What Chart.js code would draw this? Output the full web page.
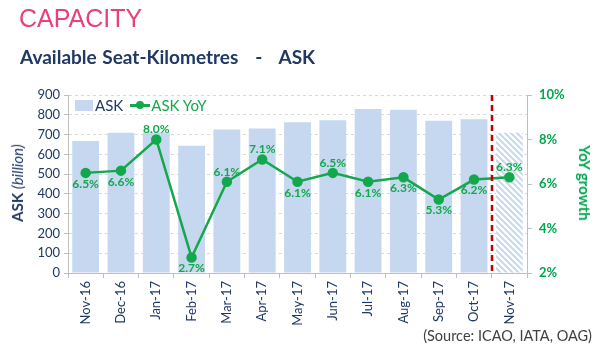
<!DOCTYPE html>
<html>
<head>
<meta charset="utf-8">
<script src="https://cdn.jsdelivr.net/npm/chart.js@4.4.1/dist/chart.umd.min.js"></script>
<style>
    body { margin: 0; background: #fff; }
    #wrap { position: relative; width: 600px; height: 347px; overflow: hidden; font-family: Lato, sans-serif; }
    #graficoAsk { position: absolute; left: 0; top: 0; }
    .txt { position: absolute; white-space: nowrap; }
    #capacity { left: 19px; top: 4px; font-family: "Liberation Sans", Arial, sans-serif; font-size: 25px; color: #e8407c; }
    #titulo { left: 20px; top: 45px; font-size: 19px; font-weight: bold; color: #1f3864; word-spacing: 1px; }
    #fonte { right: 8px; top: 327px; font-size: 14.5px; color: #404040; }
    #eixoEsq { left: 17px; top: 183px; transform: translate(-50%, -50%) rotate(-90deg); font-size: 15px; color: #1f3864; }
    #eixoDir { left: 585px; top: 183px; transform: translate(-50%, -50%) rotate(90deg); font-size: 15px; font-weight: bold; color: #00a650; }
    #legenda { left: 75px; top: 96px; font-size: 15px; display: flex; align-items: center; }
    .caixa { width: 18px; height: 11px; background: #c6d8f0; margin-right: 2px; }
    .linha { position: relative; width: 20px; height: 3px; background: #12a84b; margin: 0 1px 0 7px; }
    .linha::after { content: ''; position: absolute; left: 6px; top: -3px; width: 8px; height: 8px; border-radius: 50%; background: #12a84b; }
</style>
</head>
<body>
<div id="wrap">
    <canvas id="graficoAsk" width="600" height="347"></canvas>
    <div class="txt" id="capacity">CAPACITY</div>
    <div class="txt" id="titulo">Available Seat-Kilometres &nbsp; - &nbsp; ASK</div>
    <div class="txt" id="eixoEsq"><b>ASK</b> <i>(billion)</i></div>
    <div class="txt" id="eixoDir">YoY growth</div>
    <div class="txt" id="legenda">
        <span class="caixa"></span><span style="color:#1f3864">ASK</span>
        <span class="linha"></span><span style="color:#12a84b">ASK YoY</span>
    </div>
    <div class="txt" id="fonte">(Source: ICAO, IATA, OAG)</div>
</div>
<script>
// meses (o último é estimativa, barra hachurada)
const meses = ['Nov-16', 'Dec-16', 'Jan-17', 'Feb-17', 'Mar-17', 'Apr-17', 'May-17',
    'Jun-17', 'Jul-17', 'Aug-17', 'Sep-17', 'Oct-17', 'Nov-17'];
// ASK em bilhões
const askBilhoes = [667, 709, 711, 643, 726, 731, 762, 772, 829, 825, 770, 777, 709];
// crescimento anual (%)
const askYoY = [6.5, 6.6, 8.0, 2.7, 6.1, 7.1, 6.1, 6.5, 6.1, 6.3, 5.3, 6.2, 6.3];

const azul = '#c6d8f0';
const verde = '#12a84b';
const marinho = '#1f3864';

// rótulos acima do ponto nestes índices, abaixo nos outros
const rotuloAcima = [2, 4, 5, 7, 12];

function hachura() {
    const c = document.createElement('canvas');
    c.width = 6; c.height = 6;
    const g = c.getContext('2d');
    g.fillStyle = '#fff';
    g.fillRect(0, 0, 6, 6);
    g.strokeStyle = azul;
    g.lineWidth = 2;
    g.beginPath();
    g.moveTo(-1, -1); g.lineTo(7, 7);
    g.moveTo(-1, 5); g.lineTo(1, 7);
    g.moveTo(5, -1); g.lineTo(7, 1);
    g.stroke();
    return g.createPattern(c, 'repeat');
}

const coresBarras = askBilhoes.map((v, i) => i === askBilhoes.length - 1 ? hachura() : azul);

const rotulosYoY = {
    id: 'rotulosYoY',
    afterDatasetsDraw(chart) {
        const ctx = chart.ctx;
        const meta = chart.getDatasetMeta(0);
        ctx.save();
        ctx.font = 'bold 12px Lato';
        ctx.fillStyle = verde;
        ctx.textAlign = 'center';
        ctx.textBaseline = 'middle';
        meta.data.forEach((pt, i) => {
            const dy = rotuloAcima.includes(i) ? -10 : 11;
            ctx.fillText(askYoY[i].toFixed(1) + '%', pt.x, pt.y + dy);
        });
        ctx.restore();
    }
};

const linhaPrevisao = {
    id: 'linhaPrevisao',
    afterDatasetsDraw(chart) {
        const { ctx, chartArea, scales } = chart;
        const n = meses.length;
        const x = Math.round((scales.x.getPixelForValue(n - 2) + scales.x.getPixelForValue(n - 1)) / 2);
        ctx.save();
        ctx.strokeStyle = '#c00000';
        ctx.lineWidth = 2.5;
        ctx.setLineDash([6, 4]);
        ctx.beginPath();
        ctx.moveTo(x, chartArea.top);
        ctx.lineTo(x, chartArea.bottom);
        ctx.stroke();
        ctx.restore();
    }
};

Chart.defaults.font.family = 'Lato';

new Chart(document.getElementById('graficoAsk').getContext('2d'), {
    type: 'bar',
    data: {
        labels: meses,
        datasets: [{
            label: 'ASK YoY',
            type: 'line',
            data: askYoY,
            yAxisID: 'y2',
            borderColor: verde,
            backgroundColor: verde,
            borderWidth: 2.5,
            pointRadius: 4,
            pointHoverRadius: 4,
            tension: 0,
            order: 0
        }, {
            label: 'ASK',
            data: askBilhoes,
            yAxisID: 'y',
            backgroundColor: coresBarras,
            barPercentage: 0.76,
            categoryPercentage: 1,
            order: 1
        }]
    },
    options: {
        responsive: false,
        animation: false,
        layout: { padding: { top: 95, left: 0, right: 0, bottom: 0 } },
        plugins: {
            legend: { display: false },
            tooltip: { enabled: false }
        },
        scales: {
            x: {
                afterFit: s => { s.height = 74; },
                grid: { offset: true, drawOnChartArea: false, tickLength: 5, color: '#bfbfbf' },
                border: { color: '#bfbfbf' },
                ticks: { color: marinho, font: { size: 13 }, minRotation: 90, maxRotation: 90, padding: 3 }
            },
            y: {
                position: 'left',
                min: 0,
                max: 900,
                afterFit: s => { s.width = 68; },
                ticks: { stepSize: 100, color: marinho, font: { size: 13 }, padding: 4 },
                grid: { color: '#d9d9d9', tickLength: 4, tickColor: '#bfbfbf' },
                border: { color: '#bfbfbf', dash: [3, 3] }
            },
            y2: {
                position: 'right',
                min: 2,
                max: 10,
                afterFit: s => { s.width = 73; },
                ticks: { stepSize: 2, color: '#00a650', font: { size: 13, weight: 'bold' }, padding: 7, callback: v => v + '%' },
                grid: { drawOnChartArea: false, tickLength: 5, color: '#bfbfbf' },
                border: { color: '#bfbfbf' }
            }
        }
    },
    plugins: [rotulosYoY, linhaPrevisao]
});
</script>
</body>
</html>
